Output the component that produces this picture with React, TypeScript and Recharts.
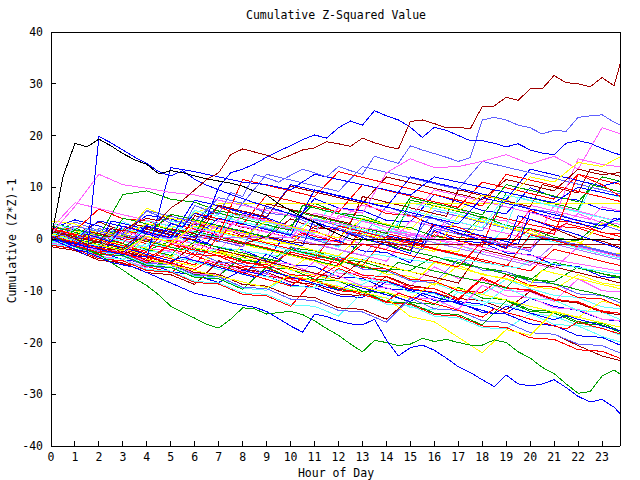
import React from 'react';
import { LineChart, Line, XAxis, YAxis } from 'recharts';

const FONT = '"DejaVu Sans Mono", "Liberation Mono", monospace';

const hourTicks = [0, 1, 2, 3, 4, 5, 6, 7, 8, 9, 10, 11, 12, 13, 14, 15, 16, 17, 18, 19, 20, 21, 22, 23];
const valueTicks = [-40, -30, -20, -10, 0, 10, 20, 30, 40];

const titleText = 'Cumulative Z-Squared Value';
const xLabelText = 'Hour of Day';
const yLabelText = 'Cumulative (Z*Z)-1';

// ---- prominent series, one value every half hour (0 .. 24) ----
const blackTop = [0, 12, 18.5, 17.8, 19.3, 18.0, 16.5, 15.3, 14.4, 12.6, 13.2, 12.8, 12.2, 11.6, 11.2, 10.8,
  10.2, 9.2, 8.5, 6.8, 5.5, 4.3, 3.2, 2.0, 0.9, 0.0,
  -0.1, -0.1, -0.1, -0.1, -0.1, -0.1, -0.1, -0.1, -0.1, -0.1, -0.1, -0.1, -0.1, -0.1, -0.1, -0.1, -0.1, -0.1,
  -0.1, -0.1, -0.1, -0.1, -0.1];
const blueJump = [0, -1.0, -2.0, -3.2, 19.8, 18.6, 17.2, 15.8, 14.6, 13.0, 12.2, 13.2, 11.5, 10.4, 9.5, 8.6,
  7.8, 7.0, 6.3, 5.6, 4.8, 4.0, 3.3, 2.5, 1.8, 1.0, 0.3, -0.5, -1.2, -2.0, -2.8, 3.5,
  2.8, 2.0, 1.2, 0.5, -0.3, -1.0, -1.8, 4.5, 3.8, 3.0, 2.2, 1.5, 0.8, 0.0, -0.8, -1.5, -2.2];
const darkRedTop = [0, 1.0, 0.0, -1.0, -0.5, 2.0, 1.5, 3.0, 4.0, 3.5, 6.0, 7.5, 9.5, 11.5, 12.8, 16.3,
  17.4, 16.8, 16.2, 15.3, 16.2, 17.2, 17.6, 18.8, 18.4, 17.9, 19.5, 18.6, 17.9, 17.4, 22.7, 23.0,
  22.3, 21.5, 21.6, 21.3, 25.6, 25.7, 27.4, 26.8, 29.0, 29.0, 31.6, 30.2, 30.0, 29.4, 31.2, 29.6, 37.8];
const blueTop = [0.5, -0.5, -1.5, 1.0, 0.2, -0.6, 2.5, 1.8, 1.0, 0.3, 3.0, 2.3, 5.0, 4.2, 10.0, 12.8,
  13.5, 14.5, 15.8, 17.0, 18.0, 19.2, 20.1, 19.5, 21.5, 22.8, 22.0, 24.8, 23.8, 23.0, 21.6, 19.6,
  21.6, 21.0, 20.0, 19.0, 19.0, 18.5, 17.8, 18.4, 17.2, 16.6, 16.3, 18.5, 19.0, 18.5, 17.5, 16.6, 16.0];
const midBlueHigh = [0, 0.8, -0.3, 1.5, 0.4, -0.5, 2.5, 1.8, 0.9, 4.0, 3.1, 2.3, 6.5, 5.6, 4.8, 9.0,
  8.2, 12.5, 11.8, 11.0, 12.3, 13.5, 12.8, 12.0, 14.0, 13.2, 12.5, 16.0, 15.3, 14.6, 18.0, 17.2,
  16.5, 15.8, 15.0, 15.7, 23.0, 23.5, 23.0, 22.0, 21.5, 20.3, 21.0, 20.8, 23.5, 23.8, 24.0, 22.6, 21.4];
const bottomBlue = [0, -1, -2, -2.5, -3.5, -4.5, -5, -5.5, -6.5, -7.5, -8.5, -9.5, -10.5, -11, -11.5, -12.3,
  -12.8, -13.2, -14, -15.4, -16.8, -18, -14.5, -15, -15.8, -16.4, -16.6, -15.5, -19.5, -22.6, -21, -20.5,
  -21.5, -23, -24.7, -25.8, -27.2, -28.5, -26.3, -28, -28.4, -28, -27.2, -28.7, -30.4, -31.5, -31, -32.5, -34.9];
const bottomGreen = [0.5, -0.5, -1.5, -2.2, -3, -4.5, -6, -7.6, -9, -10.8, -13, -14.2, -15.3, -16.5, -17.2, -15.5,
  -13.3, -13.5, -14.5, -14.2, -14, -14.6, -15.8, -17.3, -18.6, -20.3, -21.8, -19.6, -20, -20.6, -20.3, -19.2,
  -19.8, -19.4, -20, -20.5, -20.5, -19.5, -20, -21.8, -23, -24.8, -26, -28, -29.8, -29.5, -26.5, -25.3, -26.9];

// ---- core series, one value every half hour (0 .. 24) ----
const d01 = [1.0, 0.4, -0.1, 0.9, 0.3, -0.2, -0.8, 1.5, 1.0, 0.4, -0.1, -0.7, 0.6, 0.1, -0.5, 3.0, 2.4, 1.9, 1.3, 0.8,
  0.2, 1.1, 0.5, 0.0, -0.6, -1.1, 2.2, 1.6, 1.1, 0.5, 0.0, -0.6, 0.8, 0.2, -0.3, -0.9, -1.4, 4.5, 3.9, 3.4,
  2.8, 2.3, 1.7, 3.0, 2.4, 1.9, 1.3, 0.8, 0.2];
const d02 = [-0.5, -0.8, -1.2, -0.4, -0.8, -1.1, -1.5, -1.8, -0.9, -1.3, -1.6, -2.0, -2.3, -2.7, -1.5, -1.9, -2.2, -2.6, -2.9, -3.3,
  -2.0, -2.4, -2.7, -3.1, -3.4, -3.8, -4.1, -2.9, -3.3, -3.6, -4.0, -4.3, -4.7, -3.5, -3.9, -4.2, -4.6, -4.9, -5.3, -5.6,
  -4.1, -4.5, -4.8, -5.2, -5.5, -5.9, -6.2, -6.6, -6.9];
const d03 = [0.5, -0.2, -0.8, -1.5, -2.1, -1.0, -1.7, -2.3, -3.0, -3.6, -4.3, -3.5, -4.2, -4.8, -5.5, -6.1, -6.8, -7.4, -6.0, -6.7,
  -7.3, -8.0, -8.6, -9.3, -9.9, -8.8, -9.5, -10.1, -10.8, -11.4, -12.1, -10.5, -11.2, -11.8, -12.5, -13.1, -13.8, -14.4, -13.0, -13.7,
  -14.3, -15.0, -15.6, -14.8, -15.5, -16.1, -16.8, -17.4, -18.1];
const d04 = [0.8, 0.3, 2.5, 2.0, 1.4, 0.9, 0.3, -0.2, 1.0, 0.5, -0.1, -0.6, 3.2, 2.7, 2.1, 1.6, 1.0, 0.5, -0.1, 2.4,
  1.9, 1.3, 0.8, 0.2, 4.5, 4.0, 3.4, 2.9, 2.3, 1.8, 1.2, 0.7, 0.1, 3.8, 3.3, 2.7, 2.2, 1.6, 1.1, 0.5,
  6.5, 6.0, 5.4, 4.9, 4.3, 3.8, 6.2, 5.7, 5.1];
const d05 = [1.5, 1.0, 0.4, -0.1, -0.7, 1.2, 0.6, 0.1, -0.5, -1.0, -1.6, -2.1, -0.5, -1.1, -1.6, -2.2, -2.7, -3.3, -3.8, -4.4,
  -2.0, -2.6, -3.1, -3.7, -4.2, -4.8, -5.3, -5.9, -6.4, -4.5, -5.1, -5.6, -6.2, -6.7, -7.3, -7.8, -8.4, -8.9, -9.5, -7.0,
  -7.6, -8.1, -8.7, -9.2, -9.8, -10.3, -10.9, -11.4, -12.0];
const d06 = [0.2, -0.3, -0.9, 1.5, 1.0, 0.4, -0.1, 2.8, 2.3, 1.7, 1.2, 0.6, 4.5, 4.0, 3.4, 2.9, 2.3, 1.8, 6.8, 6.3,
  5.7, 5.2, 4.6, 4.1, 3.5, 3.0, 8.2, 7.7, 7.1, 6.6, 6.0, 5.5, 4.9, 4.4, 9.5, 9.0, 8.4, 7.9, 7.3, 6.8,
  6.2, 10.5, 10.0, 9.4, 8.9, 13.5, 13.0, 12.4, 11.9];
const d07 = [-0.2, 1.5, 1.0, 0.4, -0.1, -0.7, -1.2, -1.8, 0.5, 0.0, -0.6, -1.1, -1.7, -2.2, -2.8, -3.3, -1.0, -1.6, -2.1, -2.7,
  -3.2, -3.8, -4.3, -4.9, -5.4, -3.5, -4.1, -4.6, -5.2, -5.7, -6.3, -6.8, -4.5, -5.1, -5.6, -6.2, -6.7, -7.3, -7.8, -8.4,
  -8.9, -6.0, -6.6, -7.1, -7.7, -8.2, -8.8, -9.3, -9.9];
const d08 = [1.0, 0.5, -0.1, -0.6, 2.0, 1.5, 0.9, 0.4, -0.2, -0.7, 1.8, 1.3, 0.7, 0.2, -0.4, -0.9, -1.5, 2.5, 2.0, 1.4,
  0.9, 0.3, -0.2, -0.8, -1.3, 1.2, 0.7, 0.1, -0.4, -1.0, -1.5, -2.1, 2.0, 1.5, 0.9, 0.4, -0.2, -0.7, -1.3, -1.8,
  -2.4, 0.5, 0.0, -0.6, -1.1, -1.7, -2.2, -2.8, -3.3];
const d09 = [0.0, -0.6, -1.3, -1.9, -2.6, -3.2, -2.0, -2.7, -3.3, -4.0, -4.6, -5.3, -5.9, -4.5, -5.2, -5.8, -6.5, -7.1, -7.8, -8.4,
  -9.1, -7.5, -8.2, -8.8, -9.5, -10.1, -10.8, -11.4, -12.1, -10.5, -11.2, -11.8, -12.5, -13.1, -13.8, -14.4, -15.1, -13.5, -14.2, -14.8,
  -15.5, -16.1, -16.8, -17.4, -16.0, -16.7, -17.3, -18.0, -18.6];
const d10 = [1.2, 0.7, 0.1, 2.0, 1.5, 0.9, 0.4, -0.2, 3.5, 3.0, 2.4, 1.9, 1.3, 0.8, 0.2, 4.8, 4.3, 3.7, 3.2, 2.6,
  2.1, 1.5, 1.0, 5.5, 5.0, 4.4, 3.9, 3.3, 2.8, 2.2, 7.0, 6.5, 5.9, 5.4, 4.8, 4.3, 3.7, 3.2, 2.6, 8.0,
  7.5, 6.9, 6.4, 5.8, 5.3, 9.5, 9.0, 8.4, 7.9];
const d11 = [0.6, 0.1, -0.5, -1.0, -1.6, 3.5, 3.0, 2.4, 1.9, 1.3, 0.8, 0.2, -0.3, -0.9, 2.5, 2.0, 1.4, 0.9, 0.3, -0.2,
  -0.8, -1.3, 4.0, 3.5, 2.9, 2.4, 1.8, 1.3, 0.7, 0.2, -0.4, -0.9, 2.8, 2.3, 1.7, 1.2, 0.6, 0.1, -0.5, -1.0,
  5.2, 4.7, 4.1, 3.6, 3.0, 2.5, 1.9, 4.0, 3.4];
const d12 = [0.3, -0.2, 1.8, 1.3, 0.7, 0.2, 4.0, 3.5, 2.9, 2.4, 1.8, 1.3, 0.7, 5.5, 5.0, 4.4, 3.9, 3.3, 2.8, 2.2,
  1.7, 6.5, 6.0, 5.4, 4.9, 4.3, 3.8, 3.2, 2.7, 2.1, 7.5, 7.0, 6.4, 5.9, 5.3, 4.8, 4.2, 3.7, 9.0, 8.5,
  7.9, 7.4, 6.8, 6.3, 5.7, 10.5, 10.0, 9.4, 8.9];

// ---- other series, one value every hour (0 .. 24) ----
const c01 = [0.5, -0.3, -1.6, 1.8, 1.1, 0.2, 3.1, 2.0, 1.6, 0.2, -0.9, 2.4, 1.7, 1.0, -0.5, -1.6, 1.4, 0.3, -0.1, -1.9, 3.8, 2.5, 2.1, 0.6, -0.6];
const c02 = [1.2, 0.5, -0.8, -1.9, -2.2, -0.4, -1.9, -2.6, -4.1, -4.6, -1.7, -2.3, -3.9, -4.4, -5.8, -6.1, -3.3, -4.8, -5.6, -6.3, -7.9, -8.2, -5.4, -6.7, -7.5];
const c03 = [2.0, 3.7, 2.5, 1.1, 4.6, 3.9, 2.3, 6.4, 5.0, 4.1, 2.4, 7.8, 6.0, 5.5, 3.6, 3.3, 8.6, 7.2, 5.5, 4.9, 9.9, 8.1, 7.5, 5.7, 5.1];
const c04 = [0.0, -1.0, 1.1, -0.1, -1.8, -2.4, 1.3, 0.6, -1.5, 2.7, 1.7, -0.2, -0.6, 3.6, 2.3, 0.7, 0.1, 5.8, 4.0, 3.5, 1.6, 1.1, 4.9, 3.1, 2.8];
const c05 = [-0.5, -1.4, -3.3, -3.9, -1.8, -3.6, -4.2, -5.9, -6.5, -4.1, -6.0, -6.6, -8.3, -8.8, -6.1, -7.9, -8.5, -10.3, -10.7, -7.8, -9.6, -10.9, -11.3, -13.1, -13.6];
const c06 = [1.5, 0.7, 3.3, 1.5, 1.1, 4.5, 2.8, 2.4, 0.6, 0.2, 3.9, 2.1, 1.8, -0.1, -0.7, -2.2, 2.9, 1.0, 0.7, -1.2, -1.7, 2.0, 0.1, -0.4, -2.0];
const c07 = [2.5, 1.6, 0.3, -1.3, -1.7, -3.5, -0.6, -2.4, -3.0, -4.1, -5.8, -2.6, -4.3, -4.9, -6.8, -7.2, -8.9, -5.1, -6.9, -7.6, -9.2, -9.7, -6.9, -8.5, -9.2];
const c08 = [0.8, 3.3, 1.6, 1.0, 5.4, 3.5, 3.0, 1.2, 6.9, 5.0, 4.5, 2.7, 2.1, 0.4, 6.3, 4.6, 3.9, 2.2, 1.6, 7.5, 5.8, 5.1, 3.5, 2.8, 1.2];
const c09 = [-1.0, -2.0, -3.1, -4.8, -5.3, -6.5, -3.2, -4.9, -5.5, -7.2, -7.7, -9.4, -5.7, -7.4, -8.0, -9.6, -10.3, -11.8, -7.7, -9.4, -10.0, -11.6, -12.3, -13.9, -14.5];
const c10 = [3.0, 2.1, 0.5, 8.6, 9.3, 7.7, 7.1, 5.4, 4.7, 3.2, 2.5, 6.9, 5.0, 4.5, 2.8, 2.2, 0.5, -0.1, 4.4, 2.6, 2.0, 0.3, -0.4, 3.6, 1.8];
const c11 = [1.8, 1.1, -0.8, 3.4, 1.3, 0.9, -1.0, 5.2, 3.0, 2.7, 0.5, 0.3, -1.6, 3.7, 1.5, 1.2, -0.8, -1.1, -2.9, 2.6, 0.3, 0.1, -1.9, -2.2, -4.0];
const c12 = [-0.8, -1.5, -3.4, -3.9, -5.6, -2.0, -4.2, -4.5, -6.3, -6.7, -8.4, -4.3, -6.6, -6.8, -8.8, -9.1, -5.4, -7.6, -7.9, -10.0, -10.2, -12.1, -7.7, -10.0, -10.3];
const c13 = [0.3, -1.5, -2.4, -4.0, -4.6, -6.3, -7.0, -8.4, -6.0, -7.2, -8.9, -9.4, -11.0, -11.3, -8.2, -9.8, -10.4, -12.1, -12.6, -14.3, -11.5, -13.0, -13.8, -15.5, -16.0];
const c14 = [2.2, 1.6, 5.8, 3.9, 3.6, 1.6, 1.3, 6.3, 4.2, 3.9, 1.9, 1.6, -0.3, 7.0, 4.9, 4.6, 2.6, 2.3, 0.3, 0.0, 5.6, 3.5, 3.2, 1.2, 0.9];
const c15 = [-1.5, -2.2, -4.1, -4.6, -6.5, -6.9, -8.8, -4.2, -5.9, -6.4, -8.3, -8.8, -10.6, -11.0, -7.2, -9.0, -9.6, -11.5, -11.9, -13.7, -10.1, -11.8, -12.4, -14.2, -14.8];
const c16 = [0.0, -0.7, -2.5, -3.1, -4.9, -5.4, -7.2, -7.6, -9.5, -9.9, -6.8, -8.7, -9.1, -10.9, -11.4, -13.2, -13.7, -10.3, -12.1, -12.6, -14.4, -14.9, -16.7, -17.2, -19.0];
const c17 = [3.5, 2.9, 0.9, 0.6, 6.0, 3.9, 3.6, 1.6, 1.3, -0.7, -1.0, 4.6, 2.5, 2.2, 0.2, -0.1, -2.1, -2.4, 4.1, 2.0, 1.7, -0.3, -0.6, -2.6, -2.9];
const c18 = [0.5, -0.2, -2.2, -2.6, -4.5, -4.8, -6.8, -7.1, -3.4, -5.5, -5.8, -7.8, -8.1, -10.1, -10.4, -12.3, -12.6, -9.3, -11.4, -11.7, -13.7, -14.0, -16.0, -16.3, -18.2];
const c19 = [1.0, 0.4, -1.6, -2.0, 2.6, 0.5, 0.2, -1.8, -2.1, -4.1, 2.2, 0.0, -0.3, -2.3, -2.6, -4.6, 1.7, -0.4, -0.7, -2.7, -3.0, -5.0, -5.3, -7.3, -7.6];
const c20 = [-0.3, -1.0, -3.0, -3.3, -5.3, -5.6, -2.4, -4.5, -4.8, -6.8, -1.4, -3.5, -3.8, -5.8, -6.1, -8.1, -8.4, -3.9, -6.0, -6.3, -8.3, -8.6, -10.6, -10.9, -12.8];
const c21 = [1.0, 2.5, 1.4, 0.2, -0.9, -2.0, -3.1, 1.5, 0.4, -0.8, -1.9, -3.0, -4.1, -5.2, 0.5, -0.6, -1.8, -2.9, -4.0, -5.1, -6.2, -2.0, -3.1, -4.3, -5.4];
const c22 = [2.0, 7.0, 5.9, 4.7, 3.6, 2.5, 1.3, 0.2, 4.8, 3.6, 2.5, 1.4, 0.2, -0.9, -2.0, 3.5, 2.4, 1.2, 0.1, -1.0, -2.1, 6.5, 5.4, 4.2, 3.1];
const c23 = [-1.0, -1.6, -3.6, -3.9, -5.9, -6.2, -8.2, -8.5, -10.4, -10.7, -12.7, -13.0, -14.9, -10.4, -12.6, -12.9, -14.9, -15.2, -17.1, -17.4, -14.4, -16.5, -16.8, -18.8, -20.3];
const c24 = [0.7, 0.1, -1.9, -2.2, -4.2, -4.5, -6.5, -6.8, -8.8, -9.1, -11.0, -11.3, -13.3, -13.6, -15.5, -11.4, -13.5, -13.8, -15.8, -16.1, -18.1, -18.4, -20.6, -22.6, -23.8];
const c25 = [1.5, 0.3, -0.8, -1.9, -3.1, -4.2, -5.3, -2.5, -3.6, -4.7, -5.9, -7.0, -8.1, -9.2, -10.3, -11.5, -8.5, -9.6, -10.7, -11.8, -13.0, -14.1, -15.2, -12.0, -13.1];
const c26 = [0.0, 2.0, 0.0, -0.3, -2.3, -2.6, -4.6, -4.9, -6.9, -2.9, -5.0, -5.3, -7.3, -7.6, -9.6, -9.9, -11.9, -12.2, -14.2, -14.5, -16.4, -16.7, -18.7, -19.0, -21.0];
const c27 = [2.5, 1.3, 0.2, -0.9, -2.0, -3.2, 1.5, 0.4, -0.8, -1.9, -3.0, -4.1, -5.3, 0.0, -1.1, -2.3, -3.4, -4.5, -5.6, -6.8, -7.9, -4.5, -5.6, -6.7, -7.9];
const c28 = [-0.5, -1.1, -3.1, 2.1, 0.0, -0.3, -2.3, -2.6, -4.6, -4.9, -6.9, -7.2, -3.4, -5.5, -5.8, -7.8, -8.1, -10.0, -10.3, -6.9, -9.0, -9.3, -11.3, -11.6, -13.5];
const c29 = [1.2, 0.0, -1.1, -2.2, 3.0, 1.8, 0.7, -0.4, -1.5, 6.0, 4.9, 3.7, 2.6, 1.5, 0.3, -0.8, 5.5, 4.4, 3.2, 2.1, 1.0, -0.2, -1.3, -2.4, -3.5];
const c30 = [0.5, -0.1, -2.1, -2.4, -4.4, -4.7, -6.7, -7.0, -2.4, -4.5, -4.8, -6.8, -7.1, -9.1, -9.4, -11.3, -11.6, -13.6, -8.9, -11.0, -11.3, -13.3, -13.6, -15.5, -15.8];
const c31 = [3.0, 1.9, 0.7, -0.4, -1.5, 3.5, 2.3, 1.2, 0.0, -1.1, -2.2, -3.3, 2.5, 1.3, 0.2, -0.9, -2.0, -3.2, -4.3, -5.4, 0.5, -0.6, -1.7, -2.9, -4.0];
const c32 = [1.0, -0.1, -1.3, -2.4, -3.5, -4.7, -1.0, -2.1, -3.2, -4.3, -5.5, -6.6, -7.7, -4.0, -5.1, -6.3, -7.4, -8.5, -2.0, -3.1, -4.3, -5.4, -6.5, -7.6, -8.8];
const c33 = [-1.2, -1.9, -3.8, -4.2, -6.1, -6.4, -8.4, -8.7, -10.7, -11.0, -13.0, -7.9, -10.0, -10.3, -12.3, -12.6, -14.6, -14.9, -16.8, -17.1, -19.1, -19.4, -21.4, -21.7, -23.5];
const c34 = [0.5, -0.6, 2.0, 0.9, -0.3, -1.4, 3.5, 2.3, 1.2, 0.1, -1.0, -2.2, -3.3, 1.0, -0.1, -1.3, -2.4, 4.5, 3.4, 2.2, 1.1, 0.0, -1.2, 3.0, 1.9];
const c35 = [-0.2, -0.9, -2.9, -3.2, -5.1, -5.5, -7.4, -7.7, -9.7, -5.4, -7.5, -7.8, -9.8, -10.1, -12.1, -12.4, -14.3, -14.6, -16.6, -11.9, -14.0, -14.3, -16.3, -16.6, -18.5];
const c36 = [1.8, 0.7, -0.5, -1.6, -2.7, -3.8, -5.0, 0.5, -0.6, -1.7, -2.9, -4.0, 2.5, 1.4, 0.2, -0.9, -2.0, -3.1, -4.3, -5.4, 0.8, -0.3, -1.5, -2.6, -3.7];
const c37 = [0.2, -0.5, -2.4, -2.8, -4.7, -5.0, -7.0, -7.3, -9.3, -9.6, -11.6, -11.9, -13.8, -14.1, -16.1, -11.4, -13.5, -13.8, -15.8, -16.1, -18.1, -18.4, -20.3, -20.6, -22.5];
const c38 = [1.0, 0.0, 3.5, 2.4, 1.2, 0.1, -1.0, -2.2, 2.5, 1.4, 0.2, -0.9, -2.0, -3.1, -4.3, 1.0, -0.1, -1.2, -2.4, -3.5, -4.6, -5.7, -1.5, -2.6, -3.8];
const c39 = [-0.8, 2.0, 0.0, -0.3, -2.3, -2.6, -4.6, -4.9, -6.9, -7.2, -9.1, -9.4, -5.9, -8.0, -8.3, -10.3, -10.6, -12.6, -12.9, -9.4, -11.5, -11.8, -13.8, -14.1, -16.0];
const c40 = [0.3, -0.3, -2.3, -2.6, -4.6, -0.9, -3.0, -3.3, -5.3, -5.6, -7.6, -7.9, -4.9, -7.0, -7.3, -9.3, -9.6, -11.6, -7.4, -9.5, -9.8, -11.8, -12.1, -14.1, -14.4];

const u01 = [0.5, -0.6, -1.7, 2.5, 1.4, 0.3, 5.0, 3.9, 2.8, 8.5, 7.4, 6.3, 5.2, 10.5, 9.4, 8.3, 7.2, 6.1, 11.0, 9.9, 8.8, 7.7, 12.5, 11.4, 10.3];
const u02 = [1.0, -0.1, 3.5, 2.4, 1.3, 0.2, 7.5, 6.4, 5.3, 4.2, 10.5, 9.4, 8.3, 7.2, 6.1, 12.0, 10.9, 9.8, 8.7, 7.6, 13.5, 12.4, 11.3, 10.2, 11.5];
const u03 = [0.0, -1.1, -2.2, 1.5, 0.4, -0.7, -1.8, 3.5, 2.4, 1.3, 0.2, 5.0, 3.9, 6.5, 5.4, 4.3, 9.5, 8.4, 7.3, 6.2, 5.1, 4.0, 15.5, 14.4, 13.8];
const u04 = [1.5, 0.4, -0.7, -1.8, 2.0, 0.9, -0.2, 6.5, 5.4, 4.3, 10.2, 9.1, 8.0, 6.9, 12.0, 10.9, 9.8, 8.7, 7.6, 11.5, 10.4, 9.3, 13.5, 12.4, 13.0];
const u05 = [0.2, 2.5, 1.4, 0.3, 5.5, 4.4, 3.3, 8.0, 6.9, 12.5, 11.4, 10.3, 9.2, 14.0, 12.9, 11.8, 10.7, 9.6, 15.0, 13.9, 12.8, 11.7, 10.6, 9.5, 8.4];
const u06 = [0.8, -0.3, -1.4, 2.0, 0.9, -0.2, 5.5, 4.4, 3.3, 2.2, 1.1, 4.0, 2.9, 1.8, 0.7, 5.5, 4.4, 3.3, 2.2, 8.5, 7.4, 6.3, 5.2, 4.1, 3.0];
const u07 = [1.0, 0.0, -1.1, -2.2, 1.0, 4.8, 3.7, 2.6, 1.5, 0.4, 5.5, 4.4, 3.3, 2.2, 1.1, 8.0, 6.9, 5.8, 4.7, 10.5, 9.4, 8.3, 7.2, 12.0, 10.9];
const u08 = [2.0, 0.9, -0.2, -1.3, -2.4, 3.0, 1.9, 0.8, 11.5, 10.4, 9.3, 8.2, 13.0, 11.9, 10.8, 9.7, 8.6, 7.5, 6.4, 12.5, 11.4, 10.3, 9.2, 8.1, 7.0];
const u09 = [0.5, -0.6, -1.7, -2.8, 2.5, 1.4, 0.3, 4.0, 2.9, 1.8, 0.7, 9.5, 8.4, 7.3, 6.2, 5.1, 4.0, 2.9, 8.0, 6.9, 5.8, 4.7, 3.6, 2.5, 4.5];
const blueJump2 = [0.0, -1.0, -2.0, -3.0, -3.5, 13.8, 13.0, 12.0, 11.0, 10.5, 9.5, 12.5, 11.5, 10.5, 9.5, 8.5, 12.0, 11.0, 10.0, 9.0, 8.0, 7.0, 10.0, 9.0, 8.0];
const pinkJump = [1.0, 6.3, 12.5, 10.5, 9.8, 9.0, 8.5, 7.5, 6.5, 5.5, 4.5, 3.8, 3.0, 2.2, 1.5, 0.8, 0.0, -0.8, -1.6, -2.4, -3.2, -4.0, -4.8, -5.6, -6.4];
const magentaHigh = [0.5, -0.6, -1.7, -2.8, 0.5, -0.6, 2.0, 0.9, 4.5, 3.4, 2.3, 1.2, 6.0, 5.0, 12.8, 15.5, 13.8, 14.0, 15.0, 16.3, 14.5, 16.0, 13.5, 21.5, 20.0];
const yellowHigh = [1.0, -0.1, -1.2, -2.3, 0.5, -0.6, 2.5, 1.4, 0.3, 3.5, 2.4, 1.3, 0.2, 4.0, 2.9, 1.8, 6.5, 5.4, 8.5, 7.4, 12.0, 11.0, 14.8, 14.0, 16.5];
const yellowLow = [0.5, -0.6, -1.7, -2.8, -3.9, -5.0, -6.1, -7.2, -8.3, -9.4, -7.0, -8.1, -9.2, -10.3, -11.4, -15.0, -16.0, -19.0, -22.0, -17.5, -18.6, -14.0, -15.1, -16.2, -17.3];
const redRight = [0.5, -0.6, -1.7, -2.8, -3.9, -1.0, -2.1, -3.2, -4.3, -5.4, -2.5, -3.6, -4.7, -1.0, -2.1, -3.2, -4.3, -5.4, -0.5, -1.6, 2.0, 0.9, 12.5, 10.5, 7.5];
const flatYellow = [0.5, -0.5, 1.5, 0.5, 3.0, 2.0, 5.0, 6.8, 6.8, 6.8, 6.8, 6.8, 6.8, 6.8, 6.8, 6.8, 6.8, 6.8, 6.8, 6.8, 6.8, 6.8, 6.8, 6.8, 6.8];
const flatDarkRed = [0.0, -1.0, 1.5, 0.5, -0.5, 2.0, 1.0, 0.0, -1.0, 0.5, -0.5, -1.1, -1.1, -1.1, -1.1, -1.1, -1.1, -1.1, -1.1, -1.1, -1.1, -1.1, -1.1, -1.1, -1.1];
const flatViolet = [0.3, 0.2, 0.2, 0.2, 0.2, 0.2, 0.2, 0.2, 0.2, 0.2, 0.2, -1.0, -2.1, -3.2, 1.5, 0.4, -0.7, -1.8, -2.9, -4.0, -5.1, -1.0, -2.1, -3.2, -4.3];

// ---- styling ----
const RED = '#ff0000';
const DRED = '#a00000';
const GREEN = '#00a000';
const BLUE = '#0000ff';
const MBLUE = '#6060ff';
const MAG = '#ff60ff';
const CYAN = '#60ffff';
const YEL = '#ffff00';
const BLK = '#000000';
const VIOLET = '#b070ff';

type S = { vals: number[]; step: number; color: string };
const series: S[] = [
  { vals: c01, step: 1, color: RED }, { vals: c02, step: 1, color: GREEN }, { vals: c03, step: 1, color: BLUE },
  { vals: c04, step: 1, color: MAG }, { vals: c05, step: 1, color: CYAN }, { vals: c06, step: 1, color: DRED },
  { vals: c07, step: 1, color: YEL }, { vals: c08, step: 1, color: MBLUE }, { vals: c09, step: 1, color: RED },
  { vals: c10, step: 1, color: GREEN }, { vals: c11, step: 1, color: CYAN }, { vals: c12, step: 1, color: MAG },
  { vals: c13, step: 1, color: BLUE }, { vals: c14, step: 1, color: RED }, { vals: c15, step: 1, color: DRED },
  { vals: c16, step: 1, color: CYAN }, { vals: c17, step: 1, color: YEL }, { vals: c18, step: 1, color: GREEN },
  { vals: c19, step: 1, color: BLUE }, { vals: c20, step: 1, color: MBLUE }, { vals: c21, step: 1, color: RED },
  { vals: c22, step: 1, color: MAG }, { vals: c23, step: 1, color: CYAN }, { vals: c24, step: 1, color: DRED },
  { vals: c25, step: 1, color: YEL }, { vals: c26, step: 1, color: BLUE }, { vals: c27, step: 1, color: GREEN },
  { vals: c28, step: 1, color: RED }, { vals: c29, step: 1, color: MBLUE }, { vals: c30, step: 1, color: MAG },
  { vals: c31, step: 1, color: CYAN }, { vals: c32, step: 1, color: DRED }, { vals: c33, step: 1, color: RED },
  { vals: c34, step: 1, color: YEL }, { vals: c35, step: 1, color: GREEN }, { vals: c36, step: 1, color: RED },
  { vals: c37, step: 1, color: MBLUE }, { vals: c38, step: 1, color: MAG }, { vals: c39, step: 1, color: CYAN },
  { vals: c40, step: 1, color: RED },
  { vals: d01, step: 0.5, color: RED }, { vals: d02, step: 0.5, color: CYAN }, { vals: d03, step: 0.5, color: BLUE },
  { vals: d04, step: 0.5, color: MAG }, { vals: d05, step: 0.5, color: GREEN }, { vals: d06, step: 0.5, color: DRED },
  { vals: d07, step: 0.5, color: YEL }, { vals: d08, step: 0.5, color: MBLUE }, { vals: d09, step: 0.5, color: RED },
  { vals: d10, step: 0.5, color: CYAN }, { vals: d11, step: 0.5, color: BLUE }, { vals: d12, step: 0.5, color: GREEN },
  { vals: flatViolet, step: 1, color: VIOLET }, { vals: flatDarkRed, step: 1, color: DRED },
  { vals: flatYellow, step: 1, color: YEL },
  { vals: u01, step: 1, color: RED }, { vals: u02, step: 1, color: BLUE }, { vals: u03, step: 1, color: MAG },
  { vals: u04, step: 1, color: DRED }, { vals: u05, step: 1, color: MBLUE }, { vals: u06, step: 1, color: CYAN },
  { vals: u07, step: 1, color: GREEN }, { vals: u08, step: 1, color: RED }, { vals: u09, step: 1, color: BLUE },
  { vals: blueJump2, step: 1, color: BLUE }, { vals: pinkJump, step: 1, color: MAG },
  { vals: magentaHigh, step: 1, color: MAG }, { vals: yellowHigh, step: 1, color: YEL },
  { vals: yellowLow, step: 1, color: YEL }, { vals: redRight, step: 1, color: RED },
  { vals: bottomGreen, step: 0.5, color: GREEN }, { vals: bottomBlue, step: 0.5, color: BLUE },
  { vals: midBlueHigh, step: 0.5, color: MBLUE }, { vals: blueTop, step: 0.5, color: BLUE },
  { vals: blueJump, step: 0.5, color: BLUE }, { vals: blackTop, step: 0.5, color: BLK },
  { vals: darkRedTop, step: 0.5, color: DRED },
];

const toPoints = (vals: number[], step: number) => vals.map((v, i) => ({ h: i * step, v }));

const tickStyle = { fill: '#000', fontSize: 11.5, fontFamily: FONT };

export default function App() {
  return (
    <div style={{ position: 'absolute', left: 0, top: 0, width: 640, height: 480, background: '#fff', fontFamily: FONT, color: '#000' }}>
      <style>{`.zchart svg path, .zchart svg line { shape-rendering: crispEdges; }`}</style>
      <div className="zchart" style={{ position: 'absolute', left: 0, top: 0 }}>
        <LineChart width={640} height={480} margin={{ top: 31, right: 19, bottom: 0, left: 11 }}>
          <XAxis dataKey="h" type="number" domain={[0, 23.75]} ticks={hourTicks} interval={0} allowDataOverflow
            height={34} tickSize={-5} tickMargin={12} stroke="#000" tick={tickStyle} />
          <XAxis xAxisId="top" orientation="top" type="number" domain={[0, 23.75]} ticks={hourTicks} interval={0}
            allowDataOverflow height={1} tickSize={-5} stroke="#000" tick={false} />
          <YAxis type="number" domain={[-40, 40]} ticks={valueTicks} interval={0} allowDataOverflow width={40}
            tickSize={-5} tickMargin={13} stroke="#000" tick={tickStyle} />
          <YAxis yAxisId="right" orientation="right" type="number" domain={[-40, 40]} ticks={valueTicks} interval={0}
            allowDataOverflow width={1} tickSize={-5} stroke="#000" tick={false} />
          {series.map((s, i) => (
            <Line key={i} data={toPoints(s.vals, s.step)} dataKey="v" type="linear" stroke={s.color}
              strokeWidth={1} dot={false} activeDot={false} isAnimationActive={false} />
          ))}
        </LineChart>
      </div>
      <div style={{ position: 'absolute', left: 51, top: 9, width: 570, textAlign: 'center', fontSize: 11.5, lineHeight: '12px' }}>
        {titleText}
      </div>
      <div style={{ position: 'absolute', left: 51, top: 467, width: 570, textAlign: 'center', fontSize: 11.5, lineHeight: '12px' }}>
        {xLabelText}
      </div>
      <div style={{ position: 'absolute', left: -138, top: 235, width: 300, height: 12, textAlign: 'center', fontSize: 11.5, lineHeight: '12px', transform: 'rotate(-90deg)' }}>
        {yLabelText}
      </div>
    </div>
  );
}
